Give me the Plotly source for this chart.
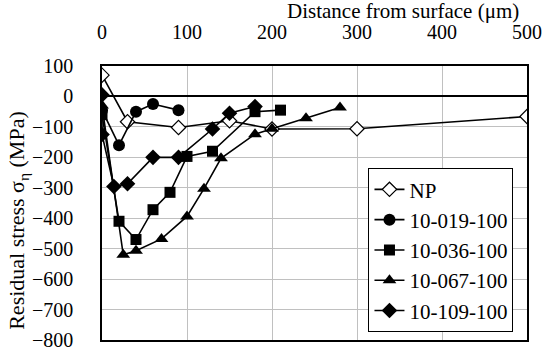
import plotly.graph_objects as go

np_x = [0, 30, 90, 150, 200, 300, 500]
np_y = [70, -83, -102, -80, -107, -106, -66]

s019_x = [0, 20, 40, 60, 90]
s019_y = [-45, -160, -50, -25, -45]

s036_x = [0, 20, 40, 60, 80, 100, 130, 180, 210]
s036_y = [-60, -410, -470, -372, -315, -197, -180, -50, -45]

s067_x = [0, 25, 40, 70, 100, 120, 140, 180, 200, 240, 280]
s067_y = [-30, -520, -507, -468, -394, -303, -203, -124, -106, -72, -36]

s109_x = [0, 0, 14, 30, 60, 90, 130, 150, 180]
s109_y = [5, -125, -296, -287, -200, -200, -107, -55, -33]

x_ticks = [0, 100, 200, 300, 400, 500]
y_ticks = [100, 0, -100, -200, -300, -400, -500, -600, -700, -800]

FONT = "Liberation Serif, Times New Roman, serif"

series = [
    ("NP", np_x, np_y, "diamond-open", 11),
    ("10-019-100", s019_x, s019_y, "circle", 12),
    ("10-036-100", s036_x, s036_y, "square", 11),
    ("10-067-100", s067_x, s067_y, "triangle-up", 12),
    ("10-109-100", s109_x, s109_y, "diamond", 12),
]

fig = go.Figure()
for name, xs, ys, sym, sz in series:
    marker = dict(symbol=sym, size=sz, color="black")
    if sym == "diamond-open":
        marker = dict(symbol="diamond", size=sz, color="white",
                      line=dict(color="black", width=1.2))
    fig.add_trace(go.Scatter(
        x=xs, y=ys, name=name, mode="lines+markers",
        line=dict(color="black", width=1.6),
        marker=marker, legendgroup=name,
    ))

tickfont = dict(family=FONT, size=20, color="black")

fig.update_layout(
    width=550, height=352,
    margin=dict(l=101.5, r=23.3, t=66, b=11.5),
    paper_bgcolor="white", plot_bgcolor="white",
    font=dict(family=FONT, size=20, color="black"),
    showlegend=True,
    legend=dict(
        x=0.627, y=0.627, xanchor="left", yanchor="top",
        bgcolor="white", bordercolor="black", borderwidth=1,
        font=dict(family=FONT, size=21, color="black"),
        tracegroupgap=0, itemwidth=30,
    ),
    xaxis=dict(
        range=[0, 500], side="top", tickvals=x_ticks, tickfont=tickfont,
        showgrid=True, gridcolor="#c0c0c0", gridwidth=1,
        showline=True, linecolor="black", linewidth=1.5, mirror=True,
        zeroline=False, ticks="", ticklabelstandoff=17, automargin=False,
    ),
    yaxis=dict(
        range=[-800, 100], tickvals=y_ticks, tickfont=tickfont,
        showgrid=True, gridcolor="#c0c0c0", gridwidth=1,
        showline=True, linecolor="black", linewidth=1.5, mirror=True,
        zeroline=True, zerolinecolor="black", zerolinewidth=2,
        ticks="", ticklabelstandoff=23, automargin=False,
    ),
    annotations=[
        dict(text="Distance from surface (μm)", xref="paper", yref="paper",
             x=1.0, y=1.0, xanchor="right", yanchor="middle", xshift=-6, yshift=55,
             showarrow=False, font=dict(family=FONT, size=21)),
        dict(text="Residual stress σ<sub>η</sub> (MPa)", xref="paper", yref="paper",
             x=0, y=0.435, xshift=-84, xanchor="center", yanchor="middle",
             textangle=-90, showarrow=False, font=dict(family=FONT, size=22)),
    ],
)

fig.write_html("out.html", config={"displayModeBar": False},
               post_script="document.body.style.margin='0';")
